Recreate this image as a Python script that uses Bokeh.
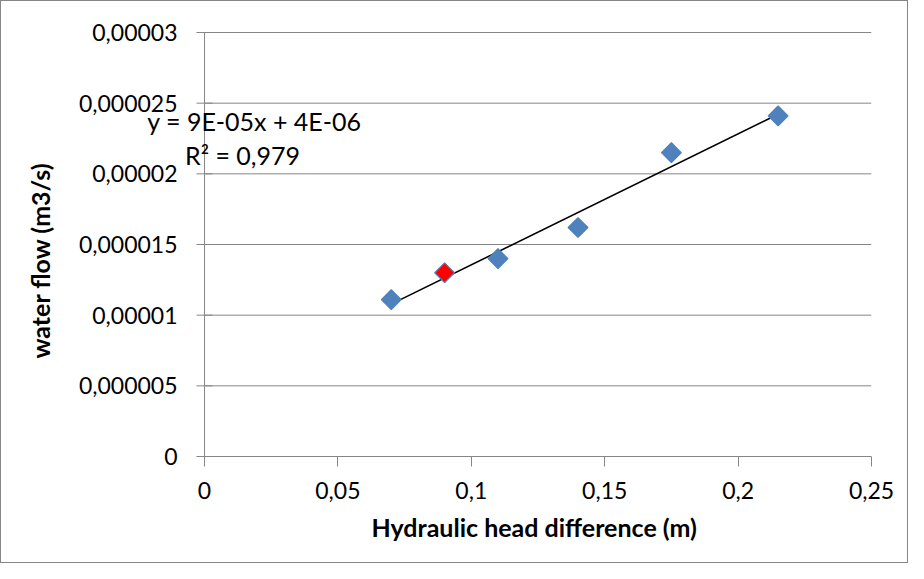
import numpy as np
from bokeh.plotting import figure
from bokeh.models import FixedTicker, Label, Range1d, Title
from bokeh.core.properties import value
from bokeh.embed import file_html
from bokeh.resources import INLINE

# ---- data ----
head_diff = [0.07, 0.09, 0.11, 0.14, 0.175, 0.215]
water_flow = [1.11e-5, 1.30e-5, 1.40e-5, 1.62e-5, 2.15e-5, 2.41e-5]
highlight_index = 1  # the red point

x_ticks = [0, 0.05, 0.1, 0.15, 0.2, 0.25]
x_tick_labels = ["0", "0,05", "0,1", "0,15", "0,2", "0,25"]
y_ticks = [0, 5e-6, 1e-5, 1.5e-5, 2e-5, 2.5e-5, 3e-5]
y_tick_labels = ["0", "0,000005", "0,00001", "0,000015", "0,00002", "0,000025", "0,00003"]

x_title = "Hydraulic head difference (m)"
y_title = "water flow (m3/s)"
trend_eq = "y = 9E-05x + 4E-06"
trend_r2 = "R² = 0,979"

# ---- styling / layout ----
FONT = "Lato"
GRID = "#868686"
BLUE = "#4F81BD"
TICK_FS = "23px"
TITLE_FS = "25px"
TREND_FS = "25px"
W, H = 908, 563
RIGHT_PAD = 38              # px right of the plot area
AXIS_PX = 203               # px position of the value axis (x = 0)
TOP_PX, BOT_PX = 31, 455    # px positions of the top and bottom y ticks
FRAME_TOP, FRAME_BOT = 10, 465

# The frame is a little larger than the plotted area so that the trendline
# label and the value-axis texts (drawn as text glyphs) are not clipped.
frame_w = W - RIGHT_PAD
x_lo = x_ticks[0] - AXIS_PX * (x_ticks[-1] - x_ticks[0]) / (frame_w - AXIS_PX)
y_per_px = (y_ticks[-1] - y_ticks[0]) / (BOT_PX - TOP_PX)
y_hi = y_ticks[-1] + (TOP_PX - FRAME_TOP) * y_per_px
y_lo = y_ticks[0] - (FRAME_BOT - BOT_PX) * y_per_px

p = figure(width=W, height=H, output_backend="svg", toolbar_location=None,
           x_range=Range1d(x_lo, x_ticks[-1]), y_range=Range1d(y_lo, y_hi),
           y_axis_location=None,
           min_border_left=0, min_border_right=RIGHT_PAD,
           min_border_top=FRAME_TOP, min_border_bottom=H - FRAME_BOT)
p.styles = {"border": "1px solid #868686", "box-sizing": "border-box"}
p.outline_line_color = None
p.background_fill_color = "white"
p.border_fill_color = "white"
p.xgrid.grid_line_color = None
p.ygrid.grid_line_color = None

# horizontal gridlines (from x = 0 to the last x tick)
n = len(y_ticks)
p.segment(x0=[x_ticks[0]] * n, x1=[x_ticks[-1]] * n, y0=y_ticks, y1=y_ticks,
          line_color=GRID, line_width=1)
# value axis line and its outward ticks
p.segment(x0=[x_ticks[0]], x1=[x_ticks[0]], y0=[y_ticks[0]], y1=[y_ticks[-1]],
          line_color=GRID, line_width=1)
p.scatter(x=[x_ticks[0]] * n, y=y_ticks, marker="dash", size=16,
          line_color=GRID, line_width=1)
# value axis labels
p.text(x=[x_ticks[0]] * n, y=y_ticks, text=y_tick_labels, x_offset=-27,
       text_align="right", text_baseline="middle", text_font=value(FONT),
       text_font_size=TICK_FS, text_color="black")
# value axis title
p.text(x=[x_ticks[0]], y=[(y_ticks[0] + y_ticks[-1]) / 2], text=[y_title],
       angle=np.pi / 2, x_offset=-165, y_offset=16, text_align="center",
       text_baseline="middle", text_font=value(FONT), text_font_style="bold",
       text_font_size=TITLE_FS, text_color="black")

# x axis at the frame's bottom edge; its ticks reach up to y = 0
xa = p.xaxis[0]
xa.ticker = FixedTicker(ticks=x_ticks)
xa.major_label_overrides = {t: l for t, l in zip(x_ticks, x_tick_labels)}
xa.axis_line_color = None
xa.major_tick_line_color = GRID
xa.major_tick_out = 0
xa.major_tick_in = FRAME_BOT - BOT_PX
xa.minor_tick_line_color = None
xa.major_label_text_font = FONT
xa.major_label_text_font_size = TICK_FS
xa.major_label_text_color = "black"
xa.major_label_standoff = 15
p.add_layout(Title(text=x_title, align="left", offset=370, standoff=16,
                   text_font=FONT, text_font_style="bold", text_font_size=TITLE_FS,
                   text_color="black"), "below")

# linear trendline (least squares on the data)
slope, intercept = np.polyfit(head_diff, water_flow, 1)
tx = [min(head_diff), max(head_diff)]
ty = [slope * v + intercept for v in tx]
p.line(tx, ty, line_color="black", line_width=1.6)

# points
fills = [("red" if i == highlight_index else BLUE) for i in range(len(head_diff))]
p.scatter(head_diff, water_flow, marker="square", angle=np.pi / 4, size=14,
          fill_color=fills, line_color=BLUE, line_width=1.2)

# trendline label
p.add_layout(Label(x=252, y=118, x_units="canvas", y_units="canvas", text=trend_eq,
                   text_align="center", text_baseline="middle", text_font=FONT,
                   text_font_size=TREND_FS, text_color="black"))
p.add_layout(Label(x=240, y=152, x_units="canvas", y_units="canvas", text=trend_r2,
                   text_align="center", text_baseline="middle", text_font=FONT,
                   text_font_size=TREND_FS, text_color="black"))

open("out.html", "w").write(file_html(p, INLINE))
